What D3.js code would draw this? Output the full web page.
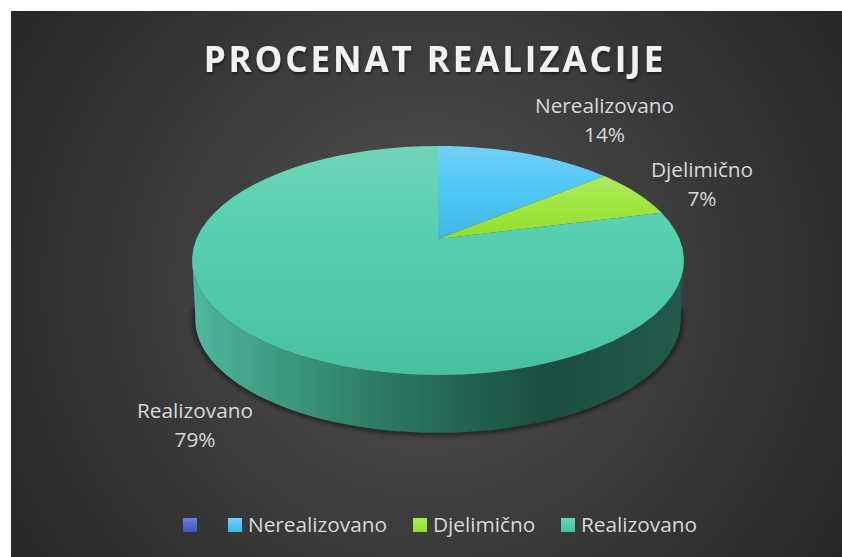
<!DOCTYPE html>
<html>
<head>
<meta charset="utf-8">
<style>
    html, body { margin: 0; background: #fff; }
    svg { display: block; }
    text { font-family: "Open Sans", sans-serif; }
</style>
</head>
<body>
<svg id="Target" width="842" height="557"></svg>
<script src="https://cdn.jsdelivr.net/npm/d3@7"></script>
<script>

const categories = ["", "Nerealizovano", "Djelimično", "Realizovano"];
const shares = [0, 14, 7, 79];
const topColors = ["#6f83dc", "#74cff5", "#aeea62", "#70d4b8"];
const midColors = ["#566cd2", "#52c9f6", "#a1e744", "#55d0ae"];
const bottomColors = ["#3f55c4", "#3fb6e6", "#93dd2c", "#47c19f"];
const chartTitle = "PROCENAT REALIZACIJE";

const svg = d3.select("#Target");
const defs = svg.append("defs");

const slices = d3.pie().sort(null).value(d => d.share)(
    categories.map((name, i) => ({ name, share: shares[i] }))
);

// the tilted disc, a circle seen in perspective
const tilt = -0.188;
const project = (angle, cx, cy, a, b) => {

    const u = Math.sin(angle);
    const v = -Math.cos(angle);
    const w = 1 + tilt * v;

    return [cx + a * u / w, cy + b * v / w];
};

const topFace = angle => project(angle, 438, 239, 241.6, 110.5);
const lowFace = angle => project(angle, 438, 298, 238.5, 109.5);

const sweep = (start, end) => d3.range(0, 61).map(i => start + (end - start) * i / 60);
const line = d3.line();

// background
const bg = defs.append("radialGradient")
    .attr("id", "bg")
    .attr("gradientUnits", "userSpaceOnUse")
    .attr("cx", 426)
    .attr("cy", 284)
    .attr("r", 500);

bg.append("stop").attr("offset", 0).attr("stop-color", "#525252");
bg.append("stop").attr("offset", 1).attr("stop-color", "#262626");

svg.append("rect")
    .attr("x", 11)
    .attr("y", 11)
    .attr("width", 831)
    .attr("height", 546)
    .attr("fill", "url(#bg)");

const blur = defs.append("filter")
    .attr("id", "blur")
    .attr("x", "-10%")
    .attr("y", "-10%")
    .attr("width", "120%")
    .attr("height", "120%");

blur.append("feGaussianBlur").attr("stdDeviation", 2.5);

const titleShadow = defs.append("filter").attr("id", "titleShadow");

titleShadow.append("feDropShadow")
    .attr("dx", 1)
    .attr("dy", 2)
    .attr("stdDeviation", 1.5)
    .attr("flood-color", "#000")
    .attr("flood-opacity", 0.5);

// title
svg.append("text")
    .attr("x", 435)
    .attr("y", 72)
    .attr("text-anchor", "middle")
    .attr("font-size", 35)
    .attr("font-weight", 700)
    .attr("letter-spacing", 2.9)
    .attr("fill", "#f2f2f2")
    .attr("filter", "url(#titleShadow)")
    .text(chartTitle);

// side wall of the disc
const side = defs.append("linearGradient")
    .attr("id", "side")
    .attr("gradientUnits", "userSpaceOnUse")
    .attr("x1", 192)
    .attr("x2", 683)
    .attr("y1", 0)
    .attr("y2", 0);

[[0, "#4fb89c"], [0.15, "#3f9f84"], [0.4, "#2b7862"], [0.72, "#1b4e40"], [1, "#225a4b"]].forEach(s => {
    side.append("stop").attr("offset", s[0]).attr("stop-color", s[1]);
});

const wall = [
    ...sweep(Math.PI * 0.55, Math.PI * 1.45).map(lowFace),
    ...sweep(Math.PI * 1.45, Math.PI * 0.55).map(topFace)
];

svg.append("path")
    .attr("d", line(sweep(Math.PI * 0.53, Math.PI * 1.47).map(lowFace)))
    .attr("fill", "none")
    .attr("stroke", "#000")
    .attr("stroke-width", 4)
    .attr("opacity", 0.7)
    .attr("filter", "url(#blur)");

svg.append("path")
    .attr("d", line(wall) + "Z")
    .attr("fill", "url(#side)");

// top face
const grads = defs.selectAll("linearGradient.slice")
    .data(slices)
    .enter()
    .append("linearGradient")
    .attr("class", "slice")
    .attr("id", (d, i) => `slice${i}`)
    .attr("x1", 0)
    .attr("x2", 0)
    .attr("y1", 0)
    .attr("y2", 1);

grads.append("stop").attr("offset", 0).attr("stop-color", (d, i) => topColors[i]);
grads.append("stop").attr("offset", 0.4).attr("stop-color", (d, i) => midColors[i]);
grads.append("stop").attr("offset", 1).attr("stop-color", (d, i) => bottomColors[i]);

svg.selectAll("path.slice")
    .data(slices.filter(d => d.value > 0))
    .enter()
    .append("path")
    .attr("class", "slice")
    .attr("fill", d => `url(#slice${d.index})`)
    .attr("d", d => line([[438, 239], ...sweep(d.startAngle, d.endAngle).map(topFace)]) + "Z");

// data labels
const labelPos = new Map([
    ["Nerealizovano", [604.5, 113]],
    ["Djelimično", [702, 177]],
    ["Realizovano", [195, 418]]
]);

const labels = svg.selectAll("g.label")
    .data(slices.filter(d => d.value > 0))
    .enter()
    .append("g")
    .attr("class", "label")
    .attr("transform", d => `translate(${labelPos.get(d.data.name)})`);

labels.append("text")
    .attr("text-anchor", "middle")
    .attr("font-size", 20.8)
    .attr("fill", "#d9d9d9")
    .text(d => d.data.name);

labels.append("text")
    .attr("y", 29)
    .attr("text-anchor", "middle")
    .attr("font-size", 20.8)
    .attr("fill", "#d9d9d9")
    .text(d => `${d.data.share}%`);

// legend
const legendX = [183, 228, 413, 561];

const legend = svg.selectAll("g.legend")
    .data(categories)
    .enter()
    .append("g")
    .attr("class", "legend")
    .attr("transform", (d, i) => `translate(${legendX[i]}, 518)`);

legend.append("rect")
    .attr("width", 14)
    .attr("height", 14)
    .attr("fill", (d, i) => `url(#slice${i})`);

legend.append("text")
    .attr("x", 20)
    .attr("y", 14)
    .attr("font-size", 20.8)
    .attr("fill", "#d9d9d9")
    .text(d => d);

</script>
</body>
</html>
